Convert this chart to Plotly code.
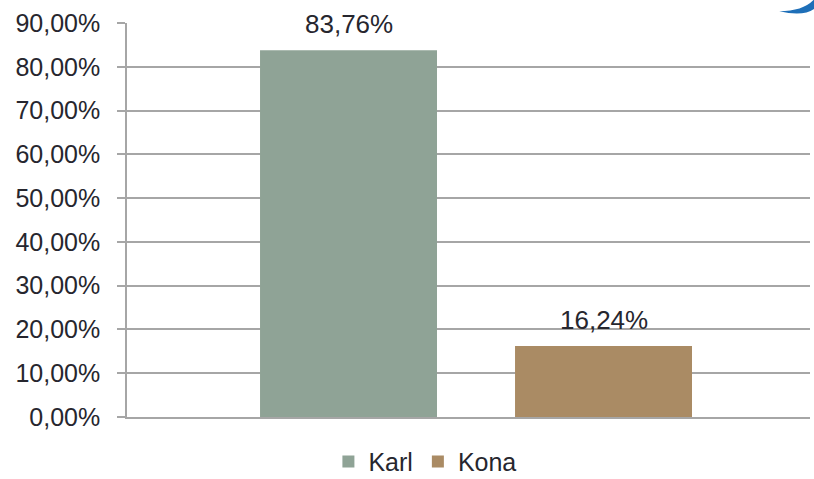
import plotly.graph_objects as go

categories = ["Karl", "Kona"]
values = [0.8376, 0.1624]
labels = ["83,76%", "16,24%"]
colors = ["#8FA396", "#AA8B64"]
tick_vals = [0, 0.1, 0.2, 0.3, 0.4, 0.5, 0.6, 0.7, 0.8, 0.9]

FONT = "Liberation Sans, Arial, sans-serif"
TXT = "#26262E"

fig = go.Figure()
for cat, val, lab, col in zip(categories, values, labels, colors):
    fig.add_trace(go.Bar(
        x=[""], y=[val], name=cat, marker=dict(color=col, line=dict(width=0)),
        text=[lab], textposition="none", hoverinfo="skip",
    ))

# value labels above bars (one per series, placed over each trace's bar)
for i, (val, lab) in enumerate(zip(values, labels)):
    fig.add_annotation(x=0, y=val, text=lab, showarrow=False, yanchor="bottom",
                       xshift=(-1 if i == 0 else 1) * 127.5,
                       yshift=9, font=dict(family=FONT, size=26, color=TXT))

# decorative corner swoosh
fig.add_shape(type="path", xref="paper", yref="paper",
              path="M 0.955 1.030 Q 0.99 1.030 1.006 1.060 L 1.006 1.036 Q 0.99 1.016 0.955 1.030 Z",
              fillcolor="#1E6FB8", line=dict(width=0), layer="above")

fig.update_layout(
    width=814, height=479,
    margin=dict(l=127, r=4, t=23, b=62, autoexpand=False),
    paper_bgcolor="white", plot_bgcolor="white",
    barmode="group", bargap=0.2533, bargroupgap=0.306,
    separators=",.",
    font=dict(family=FONT, size=25, color=TXT),
    showlegend=True,
    legend=dict(orientation="h", x=0.522, xref="container", xanchor="center",
                y=0.036, yref="container", yanchor="middle",
                font=dict(family=FONT, size=25, color=TXT),
                traceorder="normal", itemwidth=30, tracegroupgap=0),
    yaxis=dict(range=[0, 0.9], tickvals=tick_vals, tickformat=".2%",
               showgrid=True, gridcolor="#A6A6A6", gridwidth=1.5,
               showline=True, linecolor="#A6A6A6", linewidth=1.5,
               ticks="outside", ticklen=8, tickcolor="#A6A6A6", tickwidth=1.5,
               zeroline=False, ticklabelstandoff=12, automargin=False,
               tickfont=dict(family=FONT, size=25, color=TXT)),
    xaxis=dict(showticklabels=False, showline=True, linecolor="#A6A6A6", linewidth=1.5,
               showgrid=False, ticks="", range=[-0.511, 0.489], automargin=False),
)

fig.write_html("out.html", config={"displayModeBar": False},
               post_script="document.body.style.margin='0';document.body.style.overflow='hidden';")
